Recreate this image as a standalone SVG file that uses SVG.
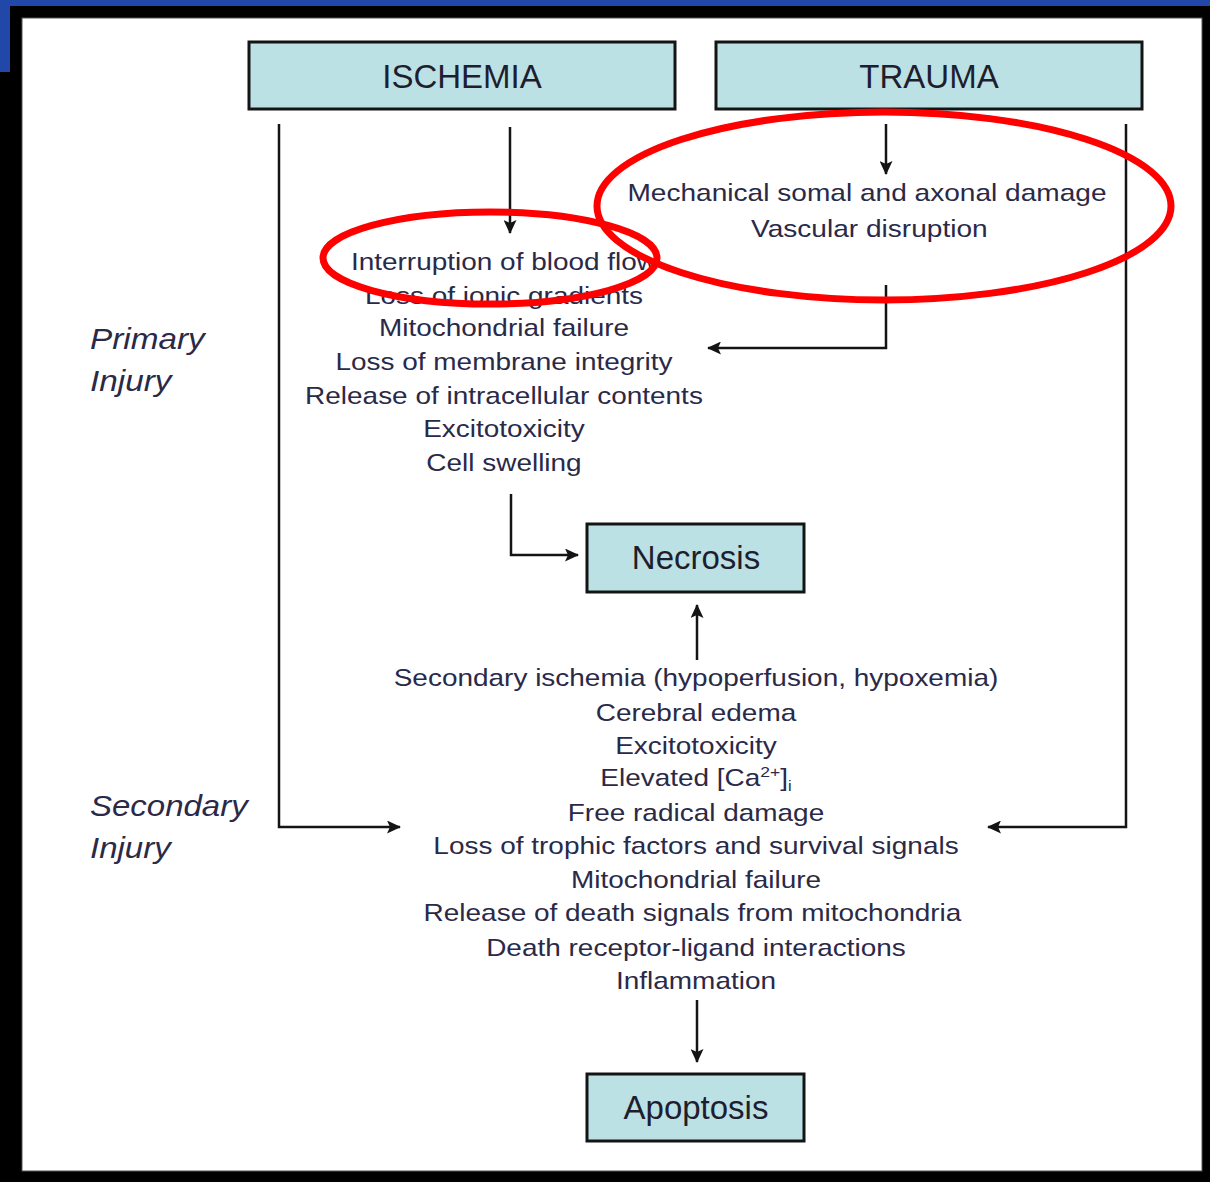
<svg xmlns="http://www.w3.org/2000/svg" width="1210" height="1182" viewBox="0 0 1210 1182">
<style>
.box{fill:#bce1e4;stroke:#141414;stroke-width:3}
.lbl{font-family:"Liberation Sans",Arial,sans-serif;font-size:33px;fill:#1e1e2e;text-anchor:middle}
.t{font-family:"Liberation Sans",Arial,sans-serif;font-size:24px;fill:#2a2a48;text-anchor:middle}
.side{font-family:"Liberation Sans",Arial,sans-serif;font-size:30px;font-style:italic;fill:#2a2a48}
.ln{fill:none;stroke:#141414;stroke-width:2.5}
.red{fill:none;stroke:#ff0000;stroke-width:7}
</style>
<defs>
<marker id="ah" markerWidth="14" markerHeight="13" refX="13" refY="6.5" orient="auto" markerUnits="userSpaceOnUse">
<path d="M0,0 L14,6.5 L0,13 L3,6.5 Z" fill="#141414"/>
</marker>
</defs>
<rect x="0" y="0" width="1210" height="1182" fill="#000"/>
<rect x="0" y="0" width="1210" height="6" fill="#2147a9"/>
<rect x="0" y="0" width="10" height="72" fill="#2147a9"/>
<rect x="22" y="18" width="1180" height="1153" fill="#fff" stroke="#555" stroke-width="1"/>

<g id="ischemia"><rect class="box" x="249" y="42" width="426" height="67"/><text class="lbl" x="462" y="88">ISCHEMIA</text></g>
<g id="trauma"><rect class="box" x="716" y="42" width="426" height="67"/><text class="lbl" x="929" y="88">TRAUMA</text></g>
<g id="necrosis"><rect class="box" x="587" y="524" width="217" height="68"/><text class="lbl" x="696" y="569">Necrosis</text></g>
<g id="apoptosis"><rect class="box" x="587" y="1074" width="217" height="67"/><text class="lbl" x="696" y="1119">Apoptosis</text></g>

<g id="primary-label" transform="translate(90,0) scale(1.11,1) translate(-90,0)"><text class="side" x="90" y="349">Primary</text><text class="side" x="90" y="391">Injury</text></g>
<g id="secondary-label" transform="translate(90,0) scale(1.1,1) translate(-90,0)"><text class="side" x="90" y="816">Secondary</text><text class="side" x="90" y="858">Injury</text></g>

<g id="primary-list" transform="translate(504,0) scale(1.165,1) translate(-504,0)">
<text class="t" x="504" y="270">Interruption of blood flow</text>
<text class="t" x="504" y="304">Loss of ionic gradients</text>
<text class="t" x="504" y="336">Mitochondrial failure</text>
<text class="t" x="504" y="370">Loss of membrane integrity</text>
<text class="t" x="504" y="404">Release of intracellular contents</text>
<text class="t" x="504" y="437">Excitotoxicity</text>
<text class="t" x="504" y="471">Cell swelling</text>
</g>
<g id="trauma-list" transform="translate(867,0) scale(1.17,1) translate(-867,0)">
<text class="t" x="867" y="201">Mechanical somal and axonal damage</text>
<text class="t" x="869" y="237">Vascular disruption</text>
</g>
<g id="secondary-list" transform="translate(696,0) scale(1.166,1) translate(-696,0)">
<text class="t" x="696" y="686">Secondary ischemia (hypoperfusion, hypoxemia)</text>
<text class="t" x="696" y="721">Cerebral edema</text>
<text class="t" x="696" y="754">Excitotoxicity</text>
<text class="t" x="696" y="786">Elevated [Ca<tspan font-size="15" dy="-9">2+</tspan><tspan dy="9">]</tspan><tspan font-size="14" dy="5">i</tspan></text>
<text class="t" x="696" y="821">Free radical damage</text>
<text class="t" x="696" y="854">Loss of trophic factors and survival signals</text>
<text class="t" x="696" y="888">Mitochondrial failure</text>
<text class="t" x="693" y="921">Release of death signals from mitochondria</text>
<text class="t" x="696" y="956">Death receptor-ligand interactions</text>
<text class="t" x="696" y="989">Inflammation</text>
</g>

<g id="connectors">
<path class="ln" d="M510,127 V233" stroke="#777" marker-end="url(#ah)"/>
<path class="ln" d="M886,124 V174" marker-end="url(#ah)"/>
<path class="ln" d="M886,285 V348 H708" marker-end="url(#ah)"/>
<path class="ln" d="M511,494 V555 H578" marker-end="url(#ah)"/>
<path class="ln" d="M697,660 V605" marker-end="url(#ah)"/>
<path class="ln" d="M697,1000 V1062" marker-end="url(#ah)"/>
<path class="ln" d="M279,124 V827 H400" marker-end="url(#ah)"/>
<path class="ln" d="M1126,124 V827 H988" marker-end="url(#ah)"/>
</g>

<g id="annotations">
<ellipse class="red" cx="490" cy="258" rx="167" ry="46"/>
<ellipse class="red" cx="884" cy="206" rx="287" ry="94"/>
</g>
</svg>
